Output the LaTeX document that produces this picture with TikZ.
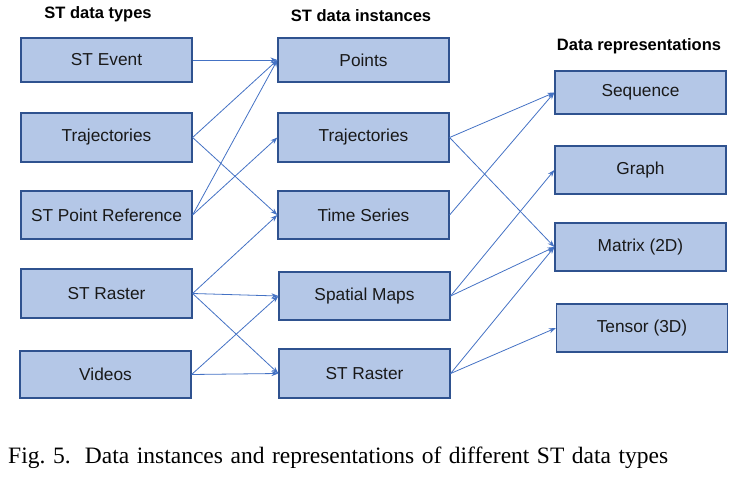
\documentclass[tikz,border=0pt]{standalone}
\usepackage{fontspec}
\setmainfont{Liberation Serif}
\setsansfont{Liberation Sans}
\usetikzlibrary{arrows.meta}
\definecolor{boxfill}{HTML}{B4C7E7}
\definecolor{boxline}{HTML}{2F528F}
\definecolor{arr}{HTML}{4472C4}
\begin{document}
\begin{tikzpicture}[x=1pt,y=-1pt,
  box/.style={draw=boxline, fill=boxfill, line width=1.2pt, inner sep=0pt,
    minimum width=171pt, font=\sffamily\fontsize{17.3}{20}\selectfont, text=black!90},
  head/.style={font=\sffamily\bfseries\fontsize{16.5}{20}\selectfont, inner sep=0pt},
  link/.style={draw=arr, line width=0.8pt, -{Stealth[length=7pt,width=5pt]}}]
\useasboundingbox (0,0) rectangle (732,478);
% headers
\node[head] (h1) at (98,14) {ST data types};
\node[head] (h2) at (361,16) {ST data instances};
\node[head] (h3) at (639,46) {Data representations};
% left column
\node[box, minimum height=44pt] (l1) at (106.5,60) {ST Event};
\node[box, minimum height=49pt] (l2) at (106.5,137.5) {Trajectories};
\node[box, minimum height=48pt] (l3) at (106.5,215) {ST Point Reference};
\node[box, minimum height=49pt] (l4) at (106.5,293.5) {ST Raster};
\node[box, minimum height=47pt] (l5) at (105.5,374.5) {Videos};
% middle column
\node[box, minimum height=44pt] (m1) at (363.5,60) {Points};
\node[box, minimum height=49pt] (m2) at (363.5,137.5) {Trajectories};
\node[box, minimum height=48pt] (m3) at (363.5,215) {Time Series};
\node[box, minimum height=48pt] (m4) at (364.5,296) {Spatial Maps};
\node[box, minimum height=49pt] (m5) at (364.5,373.5) {ST Raster};
% right column
\node[box, minimum height=43pt] (r1) at (640.5,92.5) {Sequence};
\node[box, minimum height=48pt] (r2) at (640.5,170) {Graph};
\node[box, minimum height=48pt] (r3) at (640.5,247) {Matrix (2D)};
\node[box, minimum height=48pt] (r4) at (642,328) {Tensor (3D)};
% left -> middle
\draw[link] (l1.east) -- (m1.west);
\draw[link] (l2.east) -- (m1.west);
\draw[link] (l2.east) -- (m3.west);
\draw[link] (l3.east) -- (m1.west);
\draw[link] (l3.east) -- (m2.west);
\draw[link] (l4.east) -- (m3.west);
\draw[link] (l4.east) -- (m4.west);
\draw[link] (l4.east) -- (m5.west);
\draw[link] (l5.east) -- (m4.west);
\draw[link] (l5.east) -- (m5.west);
% middle -> right
\draw[link] (m2.east) -- (r1.west);
\draw[link] (m2.east) -- (r3.west);
\draw[link] (m3.east) -- (r1.west);
\draw[link] (m4.east) -- (r2.west);
\draw[link] (m4.east) -- (r3.west);
\draw[link] (m5.east) -- (r3.west);
\draw[link] (m5.east) -- (r4.west);
% caption
\node[anchor=west, inner sep=0pt, font=\rmfamily\fontsize{23.5}{26}\selectfont] (cap) at (8,458)
  {\makebox[660pt][s]{\mbox{Fig. 5.}\hspace{0.6em}Data instances and representations of different ST data types}};
\end{tikzpicture}
\end{document}
